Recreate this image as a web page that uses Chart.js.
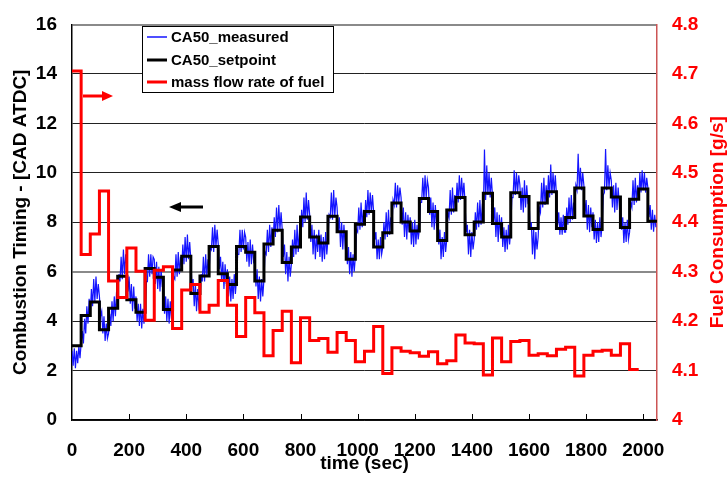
<!DOCTYPE html>
<html>
<head>
<meta charset="utf-8">
<script src="https://cdn.jsdelivr.net/npm/chart.js@4.4.0/dist/chart.umd.min.js"></script>
<style>
    body { margin: 0; background: #ffffff; }
</style>
</head>
<body>
<canvas id="grafico" width="727" height="479"></canvas>
<script>
// duração de cada degrau e período de amostragem (s)
const passoSetpoint = 32;
const passoMedido = 4;

const xTicks = [0, 200, 400, 600, 800, 1000, 1200, 1400, 1600, 1800, 2000];
const yTicks = [0, 2, 4, 6, 8, 10, 12, 14, 16];
const y1Ticks = [4, 4.1, 4.2, 4.3, 4.4, 4.5, 4.6, 4.7, 4.8];

// CA50 setpoint, um valor por degrau
const setpoint = [
    3.0, 4.23, 4.77, 3.65, 4.52, 5.82, 4.86, 4.36,
    6.13, 5.78, 4.47, 6.07, 6.62, 5.12, 5.83, 7.02,
    5.92, 5.48, 7.02, 6.79, 5.62, 7.12, 7.68, 6.37,
    7.00, 8.21, 7.40, 7.16, 8.24, 7.62, 6.50, 7.92,
    8.43, 7.00, 7.58, 8.78, 8.01, 7.65, 8.96, 8.43,
    7.26, 8.50, 9.00, 7.49, 8.01, 9.17, 7.95, 7.40,
    9.19, 9.04, 7.75, 8.78, 9.23, 7.75, 8.19, 9.39,
    8.25, 7.71, 9.39, 9.02, 7.79, 8.93, 9.35, 8.04
];

// vazão mássica de combustível (g/s), um valor por degrau
const combustivel = [
    4.706, 4.335, 4.376, 4.463, 4.281, 4.248, 4.348, 4.301,
    4.202, 4.303, 4.310, 4.185, 4.263, 4.274, 4.218, 4.232,
    4.282, 4.232, 4.169, 4.248, 4.217, 4.130, 4.181, 4.220,
    4.116, 4.207, 4.161, 4.165, 4.137, 4.177, 4.161, 4.118,
    4.139, 4.189, 4.094, 4.146, 4.139, 4.136, 4.129, 4.138,
    4.114, 4.120, 4.172, 4.156, 4.154, 4.091, 4.166, 4.118,
    4.159, 4.161, 4.131, 4.134, 4.130, 4.143, 4.147, 4.089,
    4.131, 4.139, 4.141, 4.131, 4.154, 4.102
];

// CA50 medido, amostras a cada 4 s (8 por degrau)
const medido = [
    2.8, 2.2, 2.9, 2.1, 2.8, 2.3, 3.0, 2.5,
    3.1, 3.6, 3.1, 4.1, 3.5, 4.6, 3.9, 4.9,
    4.3, 5.3, 4.6, 5.7, 4.8, 5.8, 4.9, 5.5,
    5.0, 4.2, 4.4, 3.5, 4.2, 3.2, 3.9, 3.3,
    3.5, 4.3, 3.8, 4.8, 4.0, 5.0, 4.2, 5.2,
    4.9, 5.9, 5.6, 6.6, 5.7, 6.9, 5.9, 6.7,
    6.2, 5.2, 5.8, 4.7, 5.5, 4.4, 5.4, 4.5,
    5.0, 4.0, 4.7, 3.8, 4.7, 3.7, 4.5, 3.9,
    4.6, 5.6, 5.6, 6.7, 5.8, 6.7, 5.9, 6.6,
    6.5, 5.5, 6.4, 5.3, 6.2, 5.2, 6.1, 5.4,
    5.3, 4.3, 5.0, 4.0, 4.9, 3.9, 4.8, 4.1,
    4.8, 5.8, 5.7, 6.7, 5.8, 6.8, 5.9, 6.6,
    6.1, 7.1, 6.3, 7.4, 6.4, 7.5, 6.5, 7.2,
    6.5, 5.4, 5.7, 4.6, 5.5, 4.4, 5.3, 4.6,
    4.9, 5.9, 5.6, 6.6, 5.6, 6.7, 5.8, 6.5,
    6.0, 7.0, 6.9, 7.8, 6.8, 7.9, 7.0, 7.7,
    7.1, 6.1, 6.6, 5.6, 6.4, 5.3, 6.3, 5.5,
    6.1, 5.0, 5.8, 4.8, 5.7, 4.9, 5.9, 5.1,
    5.7, 6.7, 6.7, 7.7, 6.8, 7.7, 6.9, 7.6,
    7.4, 6.4, 7.2, 6.2, 7.3, 6.3, 7.1, 6.4,
    6.5, 5.4, 6.1, 4.9, 5.8, 4.8, 5.7, 5.0,
    5.7, 6.8, 6.7, 7.7, 6.8, 7.9, 7.0, 7.8,
    7.2, 8.2, 7.4, 8.6, 7.6, 8.7, 7.7, 8.4,
    7.7, 6.6, 7.1, 5.9, 6.8, 5.6, 6.6, 5.8,
    6.3, 7.3, 6.6, 7.7, 6.7, 7.9, 6.8, 7.6,
    7.4, 8.5, 7.8, 9.0, 8.0, 9.2, 8.1, 8.9,
    8.3, 7.2, 7.9, 6.7, 7.7, 6.5, 7.5, 6.8,
    7.7, 6.6, 7.5, 6.4, 7.4, 6.5, 7.6, 6.7,
    7.3, 8.3, 8.2, 9.2, 8.1, 9.3, 8.2, 9.0,
    8.6, 7.6, 8.2, 7.0, 8.0, 6.9, 7.9, 7.1,
    7.4, 6.3, 7.0, 5.9, 6.8, 5.8, 6.7, 6.0,
    6.6, 7.7, 7.6, 8.6, 7.7, 8.8, 7.8, 8.5,
    7.9, 8.9, 8.2, 9.3, 8.3, 9.2, 8.4, 9.1,
    8.4, 7.3, 7.6, 6.5, 7.3, 6.5, 7.4, 6.7,
    7.0, 8.0, 7.3, 8.4, 7.4, 8.5, 7.5, 8.2,
    7.8, 8.9, 8.7, 9.6, 8.6, 9.5, 8.8, 9.4,
    9.0, 7.9, 8.6, 7.4, 8.4, 7.3, 8.3, 7.6,
    8.2, 7.1, 8.0, 7.0, 8.1, 7.1, 7.9, 7.3,
    7.7, 8.8, 8.8, 9.8, 8.9, 9.9, 9.0, 9.7,
    9.4, 8.3, 9.0, 7.8, 8.8, 7.7, 8.7, 7.9,
    8.2, 7.1, 7.7, 6.5, 7.4, 6.6, 7.6, 6.8,
    7.3, 8.4, 8.2, 9.3, 8.3, 9.4, 8.4, 9.1,
    8.6, 9.6, 8.8, 9.9, 8.9, 9.8, 9.0, 9.6,
    8.8, 7.6, 7.9, 6.7, 7.7, 6.6, 7.6, 6.9,
    7.3, 8.4, 7.7, 8.8, 7.8, 8.9, 7.9, 8.6,
    8.4, 10.94, 8.9, 10.3, 9.1, 10.0, 9.0, 9.8,
    9.1, 8.0, 8.6, 7.4, 8.4, 7.2, 8.3, 7.5,
    8.2, 7.0, 7.8, 6.8, 7.7, 6.9, 7.9, 7.1,
    7.7, 9.0, 9.0, 10.1, 9.1, 10.0, 9.2, 9.9,
    9.5, 8.5, 9.4, 8.4, 9.7, 8.6, 9.5, 8.8,
    8.9, 7.7, 8.0, 6.7, 7.8, 6.5, 7.6, 6.9,
    7.4, 8.6, 8.4, 9.6, 8.6, 9.8, 8.7, 9.5,
    8.8, 9.9, 9.0, 10.34, 9.1, 10.0, 9.2, 9.9,
    9.1, 7.9, 8.4, 7.5, 8.2, 7.5, 8.3, 7.6,
    7.6, 8.6, 7.9, 9.0, 8.0, 9.1, 8.1, 8.8,
    8.4, 9.5, 9.3, 10.77, 9.4, 10.2, 9.3, 10.0,
    9.5, 8.3, 8.9, 7.7, 8.7, 7.6, 8.6, 7.8,
    8.4, 7.3, 8.1, 7.16, 8.0, 7.2, 8.2, 7.4,
    7.9, 9.1, 9.2, 10.96, 9.3, 10.3, 9.4, 10.0,
    9.7, 8.6, 9.5, 8.4, 9.6, 8.5, 9.4, 8.7,
    8.9, 7.7, 8.2, 7.16, 8.0, 7.2, 8.1, 7.3,
    7.6, 8.8, 8.6, 9.7, 8.7, 9.8, 8.8, 9.5,
    8.9, 10.0, 9.2, 10.1, 9.3, 10.0, 9.2, 9.8,
    9.4, 8.2, 8.7, 7.7, 8.5, 7.62, 8.3, 7.8
];

function degraus(valores, passo) {
    let pontos = [];
    for (let i = 0; i < valores.length; i++) {
        pontos.push({ x: i * passo, y: valores[i] });
    }
    pontos.push({ x: valores.length * passo, y: valores[valores.length - 1] });
    return pontos;
}

function amostras(valores, passo) {
    let pontos = [];
    for (let i = 0; i < valores.length; i++) {
        pontos.push({ x: i * passo, y: valores[i] });
    }
    return pontos;
}

const fonteEixo = { family: "'Liberation Sans', Arial, sans-serif", size: 19, weight: 'bold', lineHeight: 1 };

// legenda com moldura, setas, titulo da direita e marcas internas do eixo x
const extras = {
    id: 'extras',
    afterDatasetsDraw(chart) {
        const ctx = chart.ctx;
        const area = chart.chartArea;
        const x = chart.scales.x;

        ctx.save();
        ctx.strokeStyle = '#000';
        ctx.lineWidth = 1;
        for (let i = 1; i < xTicks.length; i++) {
            let px = Math.round(x.getPixelForValue(xTicks[i])) + 0.5;
            ctx.beginPath();
            ctx.moveTo(px, area.bottom);
            ctx.lineTo(px, area.bottom - 6);
            ctx.stroke();
        }

        // seta vermelha -> eixo da direita
        ctx.strokeStyle = '#ff0000';
        ctx.fillStyle = '#ff0000';
        ctx.lineWidth = 3;
        ctx.beginPath();
        ctx.moveTo(83, 96);
        ctx.lineTo(104, 96);
        ctx.stroke();
        ctx.beginPath();
        ctx.moveTo(102, 91);
        ctx.lineTo(113, 96);
        ctx.lineTo(102, 101);
        ctx.closePath();
        ctx.fill();

        // seta preta -> eixo da esquerda
        ctx.strokeStyle = '#000';
        ctx.fillStyle = '#000';
        ctx.beginPath();
        ctx.moveTo(203, 207);
        ctx.lineTo(179, 207);
        ctx.stroke();
        ctx.beginPath();
        ctx.moveTo(181, 202);
        ctx.lineTo(169, 207);
        ctx.lineTo(181, 212);
        ctx.closePath();
        ctx.fill();

        // titulo do eixo da direita, lido de baixo para cima
        ctx.save();
        ctx.translate(718, (area.top + area.bottom) / 2);
        ctx.rotate(-Math.PI / 2);
        ctx.font = "bold 19px 'Liberation Sans', Arial, sans-serif";
        ctx.fillStyle = '#ff0000';
        ctx.textAlign = 'center';
        ctx.textBaseline = 'middle';
        ctx.fillText('Fuel Consumption [g/s]', 0, 0);
        ctx.restore();

        // legenda
        ctx.fillStyle = '#fff';
        ctx.fillRect(142, 26, 191, 66);
        ctx.strokeStyle = '#000';
        ctx.lineWidth = 1;
        ctx.strokeRect(142.5, 26.5, 191, 66);

        let linhas = [37, 60, 82];
        let larguras = [1.5, 3, 3];
        ctx.font = "bold 15px 'Liberation Sans', Arial, sans-serif";
        ctx.textBaseline = 'middle';
        ctx.textAlign = 'left';
        chart.data.datasets.forEach(function (ds, i) {
            ctx.strokeStyle = ds.borderColor;
            ctx.lineWidth = larguras[i];
            ctx.beginPath();
            ctx.moveTo(147, linhas[i]);
            ctx.lineTo(167, linhas[i]);
            ctx.stroke();
            ctx.fillStyle = '#000';
            ctx.fillText(ds.label, 171, linhas[i] + 1);
        });
        ctx.restore();
    }
};

let config = {
    type: 'line',
    data: {
        datasets: [
            {
                label: 'CA50_measured',
                data: amostras(medido, passoMedido),
                borderColor: '#1414ff',
                borderWidth: 1.2,
                pointRadius: 0,
                yAxisID: 'y',
                order: 3
            },
            {
                label: 'CA50_setpoint',
                data: degraus(setpoint, passoSetpoint),
                borderColor: '#000000',
                borderWidth: 3,
                pointRadius: 0,
                stepped: true,
                yAxisID: 'y',
                order: 2
            },
            {
                label: 'mass flow rate of fuel',
                data: degraus(combustivel, passoSetpoint),
                borderColor: '#ff0000',
                borderWidth: 3,
                pointRadius: 0,
                stepped: true,
                yAxisID: 'y1',
                order: 1
            }
        ]
    },
    options: {
        responsive: false,
        animation: false,
        devicePixelRatio: 1,
        layout: { padding: { top: 14, right: 0, left: 0, bottom: 0 } },
        plugins: {
            legend: { display: false },
            tooltip: { enabled: false }
        },
        scales: {
            x: {
                type: 'linear',
                min: 0,
                max: 2048,
                afterBuildTicks: function (s) { s.ticks = xTicks.map(v => ({ value: v })); },
                afterFit: function (s) { s.height = 59; },
                grid: { display: false, drawTicks: false },
                border: { color: '#000', width: 1.5 },
                ticks: {
                    color: '#000', font: fonteEixo, padding: 21, maxRotation: 0,
                    callback: v => String(v)
                },
                title: { display: true, text: 'time (sec)', color: '#000', font: fonteEixo, padding: { top: 0, bottom: 6 } }
            },
            y: {
                position: 'left',
                min: 0,
                max: 16,
                afterBuildTicks: function (s) { s.ticks = yTicks.map(v => ({ value: v })); },
                afterFit: function (s) { s.width = 72; },
                grid: {
                    drawTicks: false,
                    color: c => (c.tick && (c.tick.value == 16 || c.tick.value == 6)) ? '#8a8a8a' : '#222',
                    lineWidth: c => (c.tick && (c.tick.value == 16 || c.tick.value == 6)) ? 2 : 1
                },
                border: { color: '#000', width: 1.5 },
                ticks: { color: '#000', font: fonteEixo, padding: 15, callback: v => String(v) },
                title: { display: true, text: 'Combustion Timing - [CAD ATDC]', color: '#000', font: fonteEixo, padding: { top: 11, bottom: 0 } }
            },
            y1: {
                position: 'right',
                min: 4,
                max: 4.8,
                afterBuildTicks: function (s) { s.ticks = y1Ticks.map(v => ({ value: v })); },
                afterFit: function (s) { s.width = 70; },
                grid: { display: false, drawTicks: false },
                border: { color: '#cc5555', width: 1.5 },
                ticks: { color: '#ff0000', font: fonteEixo, padding: 15, callback: v => v == 4 ? '4' : v.toFixed(1) },
                title: { display: false }
            }
        }
    },
    plugins: [extras]
};

let meuGrafico = new Chart(document.getElementById('grafico'), config);
</script>
</body>
</html>
